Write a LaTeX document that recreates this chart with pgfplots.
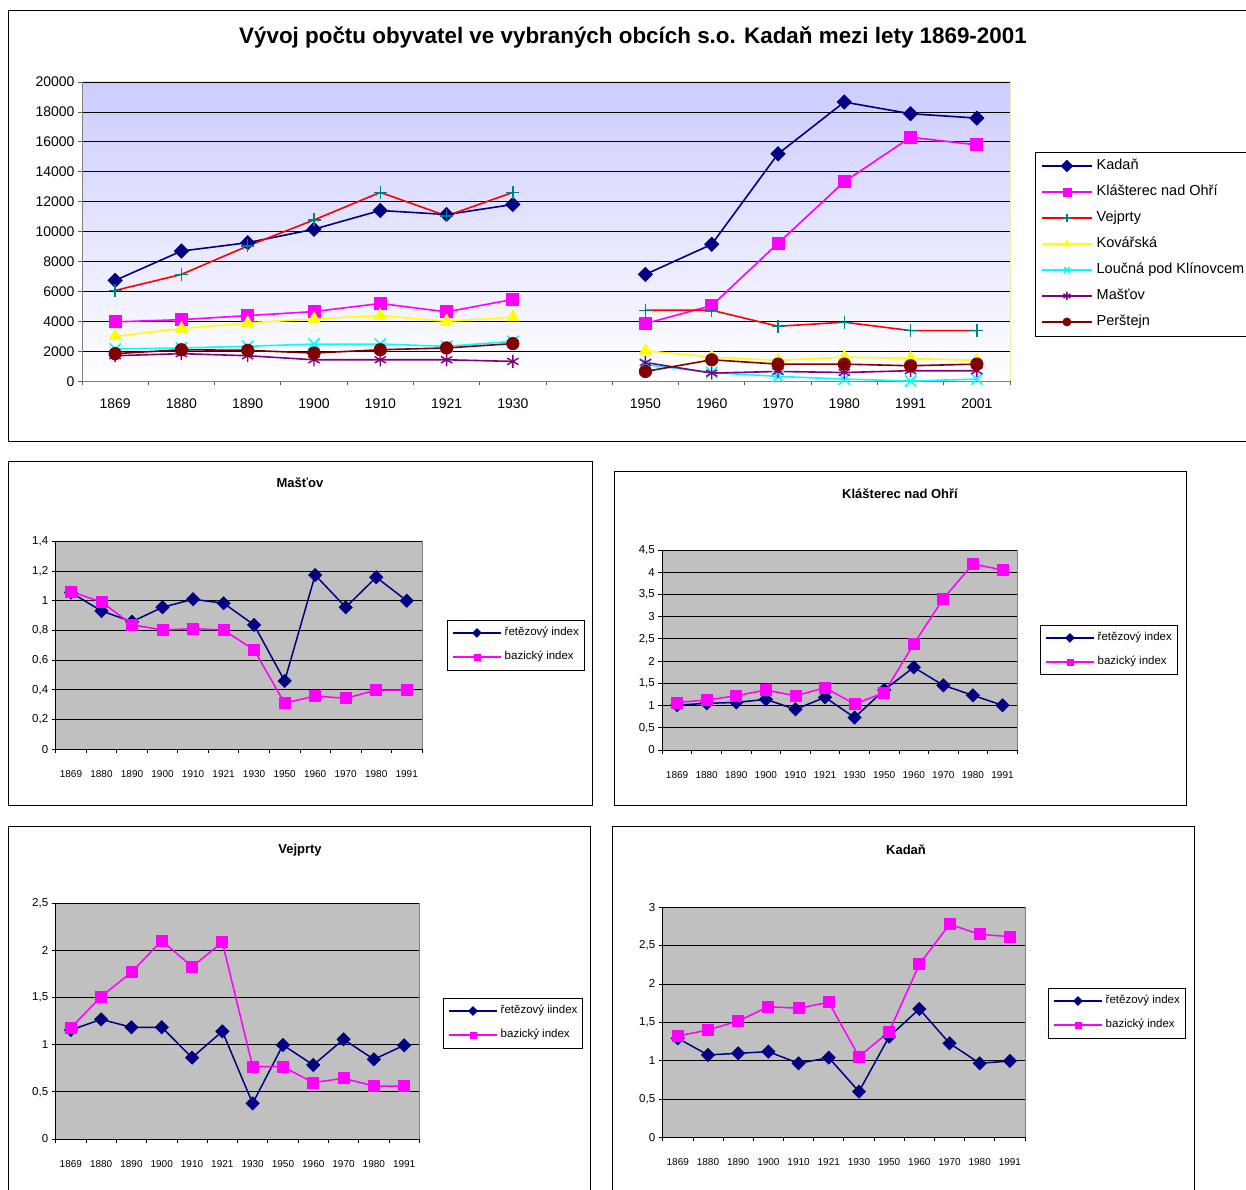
\documentclass[border=0pt]{standalone}
\usepackage{pgfplots}
\pgfplotsset{compat=1.18}
\usepackage{fontspec}
\setmainfont{Liberation Sans}
\usetikzlibrary{plotmarks}
\definecolor{cnavy}{RGB}{0,0,128}
\definecolor{cmag}{RGB}{255,0,255}
\definecolor{cred}{RGB}{255,0,0}
\definecolor{cteal}{RGB}{0,128,128}
\definecolor{cyel}{RGB}{255,255,0}
\definecolor{ccyan}{RGB}{0,255,255}
\definecolor{cpurp}{RGB}{128,0,128}
\definecolor{cmaroon}{RGB}{128,0,0}
\definecolor{clav}{RGB}{204,204,255}
\definecolor{cgray}{RGB}{192,192,192}
\definecolor{cpaleyel}{RGB}{238,238,170}
\pgfplotsset{
  smallidx/.style={
    scale only axis, anchor=south west,
    xmin=-0.5, xmax=11.5, ymin=0,
    scaled y ticks=false,
    xtick={0,...,11},
    xticklabels={1869,1880,1890,1900,1910,1921,1930,1950,1960,1970,1980,1991},
    minor xtick={-0.5,0.5,...,11.5},
    major x tick style={draw=none},
    tick align=outside,
    major tick length=4pt, minor tick length=4pt,
    axis x line*=bottom, axis y line*=left,
    axis line style={black, line width=0.8pt},
    tick style={black, line width=0.8pt},
    ymajorgrids, major grid style={black, line width=0.8pt},
    axis background/.style={fill=cgray, draw=gray, line width=0.8pt},
    xticklabel style={font=\fontsize{10}{12}\selectfont, yshift=-13.5pt},
    yticklabel style={font=\fontsize{11.5}{13}\selectfont},
    legend cell align=left,
    legend style={draw=black, fill=white,
      font=\fontsize{11.5}{13}\selectfont, inner xsep=5pt, inner ysep=7.5pt,
      row sep=13.5pt, column sep=3pt,
      nodes={inner sep=0pt, text height=8pt, text depth=2.5pt},
      anchor=north west},
    legend image code/.code={\draw[#1, line width=1.5pt, mark repeat=2, mark phase=2, mark size=3pt] plot coordinates {(0pt,0pt) (24pt,0pt) (48pt,0pt)};},
    clip=false,
  },
  chain/.style={color=cnavy, line width=1.5pt, mark=square*, mark options={rotate=45, solid, line width=0.8pt}, mark size=4.6pt},
  basic/.style={color=cmag, line width=1.5pt, mark=square*, mark options={solid, line width=0.8pt}, mark size=5.5pt},
}
\begin{document}
\begin{tikzpicture}
\useasboundingbox (0pt,0pt) rectangle (1246pt,1189pt);
\fill[white] (0pt,0pt) rectangle (1246pt,1189pt);
% frames
\draw[line width=0.8pt] (8pt,748pt) rectangle (1260pt,1179pt);
\draw[line width=0.8pt] (8pt,384pt) rectangle (592pt,728pt);
\draw[line width=0.8pt] (614pt,384pt) rectangle (1186pt,718pt);
\draw[line width=0.8pt] (8pt,-10pt) rectangle (590pt,363pt);
\draw[line width=0.8pt] (612pt,-10pt) rectangle (1194pt,363pt);
% titles
\node at (633pt,1152pt) {\fontsize{22.4}{26}\selectfont\bfseries Vývoj počtu obyvatel ve vybraných obcích s.o. Kadaň mezi lety 1869-2001};
\node at (300pt,706pt) {\fontsize{13}{15}\selectfont\bfseries Mašťov};
\node at (900pt,695pt) {\fontsize{13}{15}\selectfont\bfseries Klášterec nad Ohří};
\node at (300pt,339pt) {\fontsize{13}{15}\selectfont\bfseries Vejprty};
\node at (906pt,339pt) {\fontsize{13}{15}\selectfont\bfseries Kadaň};

% main chart
\begin{axis}[
  at={(82pt,807.5pt)}, anchor=south west, scale only axis,
  width=928pt, height=299.5pt,
  xmin=-0.5, xmax=13.5, ymin=0, ymax=20000,
  scaled y ticks=false,
  xtick={0,...,13},
  xticklabels={1869,1880,1890,1900,1910,1921,1930,,1950,1960,1970,1980,1991,2001},
  minor xtick={-0.5,0.5,...,13.5},
  major x tick style={draw=none},
  ytick={0,2000,...,20000},
  yticklabels={0,2000,4000,6000,8000,10000,12000,14000,16000,18000,20000},
  tick align=outside, major tick length=4pt, minor tick length=4pt,
  axis x line*=bottom, axis y line*=left,
  axis line style={gray, line width=0.8pt},
  tick style={gray!70!black, line width=0.8pt},
  ymajorgrids, major grid style={black, line width=0.8pt},
  axis background/.style={top color=clav, bottom color=white, draw=cpaleyel, line width=1pt},
  xticklabel style={font=\fontsize{14}{16}\selectfont, yshift=-9.5pt},
  yticklabel style={font=\fontsize{14}{16}\selectfont},
  unbounded coords=jump,
  clip=false,
  legend cell align=left,
  legend style={at={(1.0269,0.767)}, anchor=north west, draw=black, fill=white,
    font=\fontsize{14.5}{16}\selectfont, inner xsep=6pt, inner ysep=7.5pt,
    row sep=13pt, column sep=4pt,
    nodes={inner sep=0pt, text height=10pt, text depth=3pt}},
  legend image code/.code={\draw[#1, line width=1.5pt, mark repeat=2, mark phase=2, mark size=4pt] plot coordinates {(0pt,0pt) (25pt,0pt) (50pt,0pt)};},
]
\addplot[color=cnavy, line width=1.6pt, mark=square*, mark options={rotate=45, solid, line width=0.8pt}, mark size=5pt] coordinates {
 (0,6750) (1,8710) (2,9270) (3,10170) (4,11420) (5,11150) (6,11820) (7,nan)
 (8,7150) (9,9160) (10,15200) (11,18660) (12,17880) (13,17590)};
\addlegendentry{Kadaň}
\addplot[color=cmag, line width=1.6pt, mark=square*, mark options={solid, line width=0.8pt}, mark size=6pt] coordinates {
 (0,3980) (1,4130) (2,4400) (3,4670) (4,5210) (5,4650) (6,5480) (7,nan)
 (8,3870) (9,5070) (10,9230) (11,13340) (12,16310) (13,15800)};
\addlegendentry{Klášterec nad Ohří}
\addplot[color=cred, line width=1.6pt, mark=+, mark options={draw=cteal, line width=1.3pt, solid}, mark size=6.5pt] coordinates {
 (0,6080) (1,7150) (2,9050) (3,10790) (4,12630) (5,11060) (6,12630) (7,nan)
 (8,4760) (9,4760) (10,3690) (11,3960) (12,3400) (13,3400)};
\addlegendentry{Vejprty}
\addplot[color=cyel, line width=1.6pt, mark=triangle*, mark options={solid, line width=0.8pt}, mark size=7pt] coordinates {
 (0,3020) (1,3530) (2,3910) (3,4180) (4,4400) (5,4020) (6,4290) (7,nan)
 (8,2050) (9,1630) (10,1410) (11,1630) (12,1540) (13,1410)};
\addlegendentry{Kovářská}
\addplot[color=ccyan, line width=1.6pt, mark=x, mark options={line width=1.6pt, solid}, mark size=8pt] coordinates {
 (0,2170) (1,2240) (2,2350) (3,2500) (4,2500) (5,2350) (6,2680) (7,nan)
 (8,1120) (9,600) (10,340) (11,160) (12,30) (13,160)};
\addlegendentry{Loučná pod Klínovcem}
\addplot[color=cpurp, line width=1.6pt, mark=asterisk, mark options={line width=1.4pt, solid}, mark size=6.5pt] coordinates {
 (0,1720) (1,1860) (2,1720) (3,1450) (4,1450) (5,1450) (6,1340) (7,nan)
 (8,1270) (9,560) (10,670) (11,600) (12,720) (13,720)};
\addlegendentry{Mašťov}
\addplot[color=cmaroon, line width=1.6pt, mark=*, mark options={solid, line width=0.8pt}, mark size=6.2pt] coordinates {
 (0,1860) (1,2120) (2,2080) (3,1900) (4,2120) (5,2240) (6,2530) (7,nan)
 (8,670) (9,1450) (10,1160) (11,1160) (12,1050) (13,1160)};
\addlegendentry{Perštejn}
\end{axis}

% Mastov
\begin{axis}[smallidx, at={(55.7pt,439.7pt)}, width=366.3pt, height=208pt,
  ymax=1.4, ytick={0,0.2,...,1.4},
  yticklabels={0,{0,2},{0,4},{0,6},{0,8},1,{1,2},{1,4}},
  legend style={at={(1.0683,0.6216)}}]
\addplot[chain] coordinates {(0,1.055) (1,0.931) (2,0.859) (3,0.956) (4,1.010) (5,0.983) (6,0.837) (7,0.460) (8,1.173) (9,0.956) (10,1.158) (11,1.000)};
\addlegendentry{řetězový index}
\addplot[basic] coordinates {(0,1.061) (1,0.992) (2,0.839) (3,0.803) (4,0.812) (5,0.803) (6,0.669) (7,0.310) (8,0.359) (9,0.343) (10,0.399) (11,0.399)};
\addlegendentry{bazický index}
\end{axis}

% Klasterec
\begin{axis}[smallidx, at={(662.3pt,439pt)}, width=355pt, height=200pt,
  ymax=4.5, ytick={0,0.5,...,4.5},
  yticklabels={0,{0,5},1,{1,5},2,{2,5},3,{3,5},4,{4,5}},
  legend style={at={(1.0639,0.625)}}]
\addplot[chain] coordinates {(0,1.01) (1,1.05) (2,1.07) (3,1.14) (4,0.915) (5,1.185) (6,0.73) (7,1.35) (8,1.86) (9,1.455) (10,1.23) (11,1.005)};
\addlegendentry{řetězový index}
\addplot[basic] coordinates {(0,1.07) (1,1.125) (2,1.22) (3,1.35) (4,1.22) (5,1.40) (6,1.035) (7,1.29) (8,2.385) (9,3.405) (10,4.185) (11,4.05)};
\addlegendentry{bazický index}
\end{axis}

% Vejprty
\begin{axis}[smallidx, at={(55.7pt,50pt)}, width=363.6pt, height=235.7pt,
  ymax=2.5, ytick={0,0.5,...,2.5},
  yticklabels={0,{0,5},1,{1,5},2,{2,5}},
  legend style={at={(1.0652,0.598)}}]
\addplot[chain] coordinates {(0,1.156) (1,1.269) (2,1.185) (3,1.185) (4,0.863) (5,1.142) (6,0.378) (7,0.997) (8,0.785) (9,1.057) (10,0.845) (11,0.994)};
\addlegendentry{řetězový iindex}
\addplot[basic] coordinates {(0,1.181) (1,1.51) (2,1.768) (3,2.104) (4,1.828) (5,2.086) (6,0.767) (7,0.767) (8,0.598) (9,0.644) (10,0.562) (11,0.562)};
\addlegendentry{bazický index}
\end{axis}

% Kadan
\begin{axis}[smallidx, at={(662.7pt,51.7pt)}, width=362.3pt, height=230pt,
  ymax=3, ytick={0,0.5,...,3},
  yticklabels={0,{0,5},1,{1,5},2,{2,5},3},
  legend style={at={(1.0635,0.649)}}]
\addplot[chain] coordinates {(0,1.291) (1,1.074) (2,1.096) (3,1.117) (4,0.965) (5,1.039) (6,0.596) (7,1.313) (8,1.674) (9,1.226) (10,0.965) (11,0.996)};
\addlegendentry{řetězový index}
\addplot[basic] coordinates {(0,1.322) (1,1.40) (2,1.517) (3,1.704) (4,1.683) (5,1.761) (6,1.052) (7,1.378) (8,2.257) (9,2.778) (10,2.648) (11,2.617)};
\addlegendentry{bazický index}
\end{axis}
\end{tikzpicture}
\end{document}
